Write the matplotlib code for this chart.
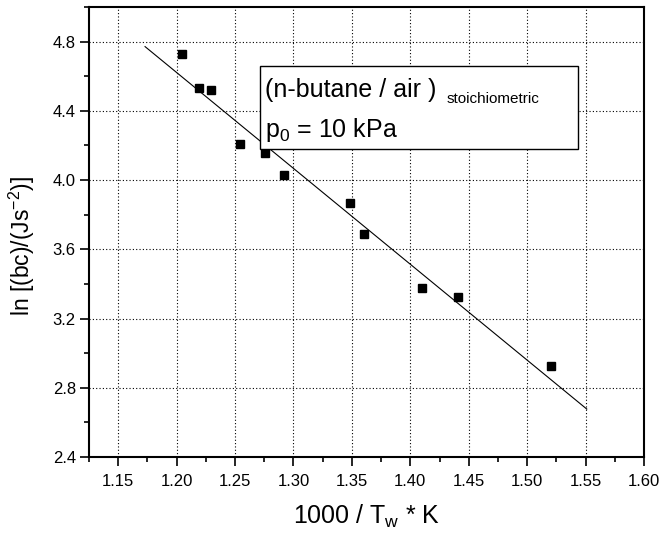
import matplotlib
matplotlib.use('Agg')
import matplotlib.pyplot as plt
import numpy as np
from matplotlib.patches import Rectangle
from matplotlib.ticker import MultipleLocator

plt.rcParams['font.family'] = ['Liberation Sans', 'DejaVu Sans']
plt.rcParams['mathtext.default'] = 'regular'

# measured points
inv_T = [1.2046, 1.219, 1.2297, 1.254, 1.2756, 1.292, 1.348, 1.3606, 1.410, 1.441, 1.520]
ln_bc = [4.728, 4.530, 4.520, 4.208, 4.155, 4.029, 3.866, 3.687, 3.375, 3.323, 2.924]

# linear fit line end points
fit_x = [1.173, 1.551]
fit_y = [4.771, 2.677]

xticks = [1.15, 1.20, 1.25, 1.30, 1.35, 1.40, 1.45, 1.50, 1.55, 1.60]
yticks = [2.4, 2.8, 3.2, 3.6, 4.0, 4.4, 4.8]

fig = plt.figure(figsize=(6.6, 5.36), dpi=100)
ax = fig.add_axes([0.1348, 0.1474, 0.841, 0.8396])

ax.plot(fit_x, fit_y, color='black', lw=0.8, zorder=3)
ax.plot(inv_T, ln_bc, ls='none', marker='s', ms=6, color='black', zorder=4)

ax.set_xlim(1.125, 1.60)
ax.set_ylim(2.4, 5.0)
ax.set_xticks(xticks)
ax.set_xticklabels(['%.2f' % v for v in xticks])
ax.set_yticks(yticks)
ax.set_yticklabels(['%.1f' % v for v in yticks])
ax.xaxis.set_minor_locator(MultipleLocator(0.025))
ax.yaxis.set_minor_locator(MultipleLocator(0.2))

ax.grid(True, which='major', color='black', ls=(0, (1, 2)), lw=0.8)
ax.set_axisbelow(True)

for s in ax.spines.values():
    s.set_linewidth(1.5)
ax.tick_params(which='major', direction='out', length=6.5, width=1.2, labelsize=12)
ax.tick_params(which='minor', direction='out', length=3.5, width=1.2)
ax.tick_params(axis='y', which='major', pad=3)
ax.tick_params(axis='x', which='major', pad=6)

ax.set_xlabel('1000 / T$_w$ * K', fontsize=18, labelpad=10)
ax.set_ylabel('ln [(bc)/(Js$^{-2}$)]', fontsize=16.5)
ax.yaxis.set_label_coords(-0.094, 0.47)

ax.add_patch(Rectangle((0.308, 0.684), 0.573, 0.185, transform=ax.transAxes,
                       facecolor='white', edgecolor='black', lw=1.0, zorder=5))
ax.text(0.317, 0.80, '(n-butane / air )', transform=ax.transAxes, fontsize=18,
        ha='left', va='baseline', zorder=6)
ax.text(0.645, 0.787, 'stoichiometric', transform=ax.transAxes, fontsize=11,
        ha='left', va='baseline', zorder=6)
ax.text(0.317, 0.711, 'p$_0$ = 10 kPa', transform=ax.transAxes, fontsize=18,
        ha='left', va='baseline', zorder=6)

fig.savefig('out.png', dpi=100)
